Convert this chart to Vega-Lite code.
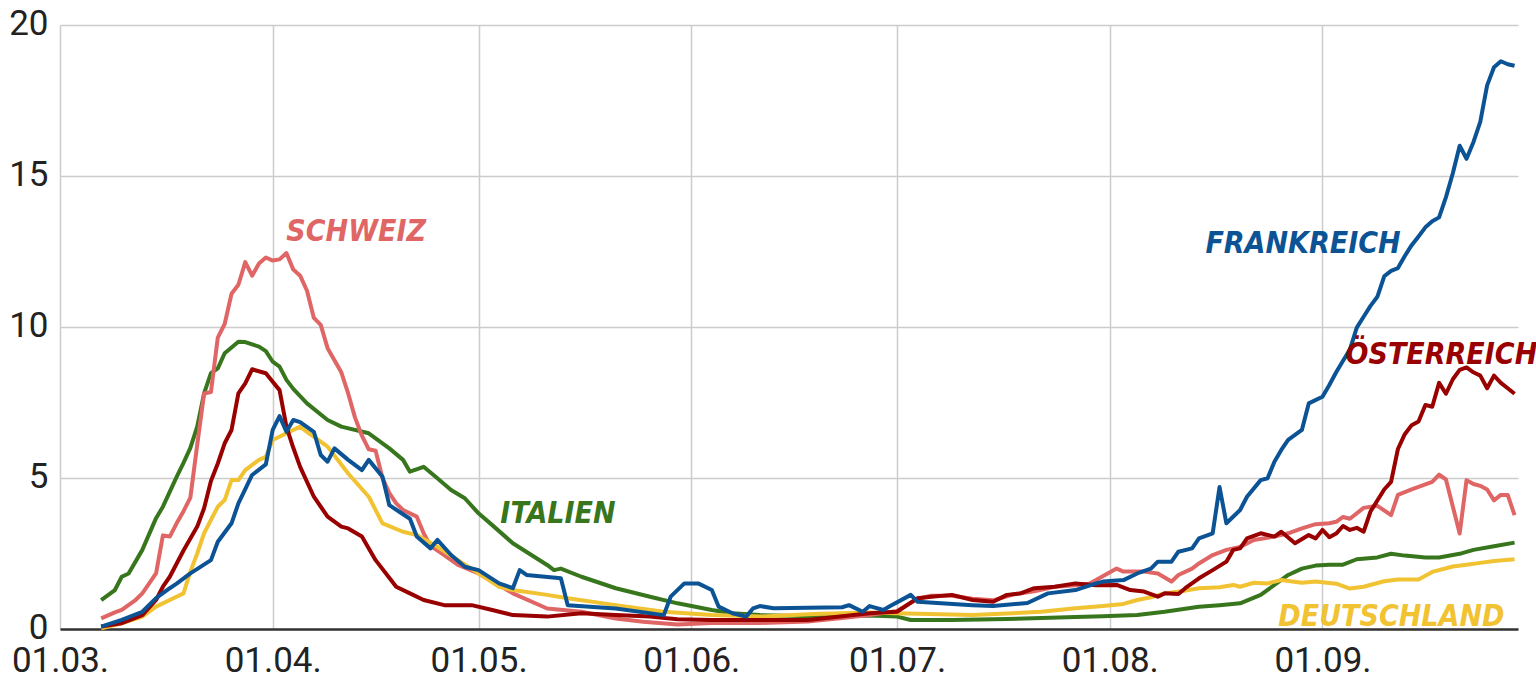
{
"$schema":"https://vega.github.io/schema/vega-lite/v6.json",
"width":1458,"height":604,
"autosize":{"type":"none"},
"padding":{"left":60,"top":25,"right":18,"bottom":62},
"config":{"view":{"stroke":null},"font":"Roboto"},
"encoding":{
 "x":{"field":"d","type":"temporal","scale":{"type":"utc","domain":[{"year":2020,"month":3,"date":1,"utc":true},{"year":2020,"month":9,"date":29,"hours":12,"utc":true}]},
  "axis":{"title":null,"labelExpr":"utcFormat(datum.value, '%d.%m.')","values":[{"year":2020,"month":3,"date":1,"utc":true},{"year":2020,"month":4,"date":1,"utc":true},{"year":2020,"month":5,"date":1,"utc":true},{"year":2020,"month":6,"date":1,"utc":true},{"year":2020,"month":7,"date":1,"utc":true},{"year":2020,"month":8,"date":1,"utc":true},{"year":2020,"month":9,"date":1,"utc":true}],
   "labelFlush":false,"labelOverlap":false,"ticks":false,"domainColor":"#333333","domainWidth":2.5,"labelFontSize":35,"labelColor":"#222222","labelPadding":14,"grid":true,"gridColor":"#cccccc","gridWidth":1.5}},
 "y":{"field":"v","type":"quantitative","scale":{"domain":[0,20],"nice":false},
  "axis":{"title":null,"values":[0,5,10,15,20],"domain":false,"ticks":false,"labelFontSize":35,"labelColor":"#222222","labelPadding":12,"labelOffset":-2,"gridColor":"#cccccc","gridWidth":1.5}},
 "color":{"field":"c","type":"nominal","legend":null,"scale":{"domain":["Italien","Schweiz","Deutschland","Österreich","Frankreich"],"range":["#38761d","#e06666","#f1c232","#990000","#0b5394"]}}
},
"layer":[
{"data":{"values":[
{"c":"Italien","d":"2020-03-07","v":0.96},{"c":"Italien","d":"2020-03-09","v":1.29},{"c":"Italien","d":"2020-03-10","v":1.73},{"c":"Italien","d":"2020-03-11","v":1.84},{"c":"Italien","d":"2020-03-13","v":2.62},{"c":"Italien","d":"2020-03-15","v":3.67},{"c":"Italien","d":"2020-03-16","v":4.05},{"c":"Italien","d":"2020-03-18","v":5.04},{"c":"Italien","d":"2020-03-19","v":5.5},{"c":"Italien","d":"2020-03-20","v":6.0},{"c":"Italien","d":"2020-03-21","v":6.7},{"c":"Italien","d":"2020-03-22","v":7.8},{"c":"Italien","d":"2020-03-23","v":8.47},{"c":"Italien","d":"2020-03-24","v":8.63},{"c":"Italien","d":"2020-03-25","v":9.13},{"c":"Italien","d":"2020-03-27","v":9.51},{"c":"Italien","d":"2020-03-28","v":9.5},{"c":"Italien","d":"2020-03-30","v":9.35},{"c":"Italien","d":"2020-03-31","v":9.2},{"c":"Italien","d":"2020-04-01","v":8.85},{"c":"Italien","d":"2020-04-02","v":8.69},{"c":"Italien","d":"2020-04-03","v":8.25},{"c":"Italien","d":"2020-04-04","v":7.95},{"c":"Italien","d":"2020-04-06","v":7.47},{"c":"Italien","d":"2020-04-09","v":6.92},{"c":"Italien","d":"2020-04-11","v":6.7},{"c":"Italien","d":"2020-04-15","v":6.48},{"c":"Italien","d":"2020-04-17","v":6.15},{"c":"Italien","d":"2020-04-18","v":5.98},{"c":"Italien","d":"2020-04-20","v":5.6},{"c":"Italien","d":"2020-04-21","v":5.21},{"c":"Italien","d":"2020-04-23","v":5.37},{"c":"Italien","d":"2020-04-25","v":4.99},{"c":"Italien","d":"2020-04-27","v":4.6},{"c":"Italien","d":"2020-04-29","v":4.33},{"c":"Italien","d":"2020-05-01","v":3.83},{"c":"Italien","d":"2020-05-03","v":3.44},{"c":"Italien","d":"2020-05-06","v":2.84},{"c":"Italien","d":"2020-05-11","v":2.12},{"c":"Italien","d":"2020-05-12","v":1.95},{"c":"Italien","d":"2020-05-13","v":2.0},{"c":"Italien","d":"2020-05-16","v":1.73},{"c":"Italien","d":"2020-05-21","v":1.35},{"c":"Italien","d":"2020-05-26","v":1.07},{"c":"Italien","d":"2020-05-30","v":0.85},{"c":"Italien","d":"2020-06-04","v":0.63},{"c":"Italien","d":"2020-06-07","v":0.52},{"c":"Italien","d":"2020-06-11","v":0.46},{"c":"Italien","d":"2020-06-19","v":0.42},{"c":"Italien","d":"2020-06-27","v":0.45},{"c":"Italien","d":"2020-07-01","v":0.41},{"c":"Italien","d":"2020-07-03","v":0.3},{"c":"Italien","d":"2020-07-09","v":0.3},{"c":"Italien","d":"2020-07-17","v":0.33},{"c":"Italien","d":"2020-07-27","v":0.4},{"c":"Italien","d":"2020-07-31","v":0.42},{"c":"Italien","d":"2020-08-05","v":0.46},{"c":"Italien","d":"2020-08-09","v":0.57},{"c":"Italien","d":"2020-08-14","v":0.74},{"c":"Italien","d":"2020-08-17","v":0.79},{"c":"Italien","d":"2020-08-20","v":0.85},{"c":"Italien","d":"2020-08-23","v":1.13},{"c":"Italien","d":"2020-08-25","v":1.46},{"c":"Italien","d":"2020-08-27","v":1.79},{"c":"Italien","d":"2020-08-29","v":2.0},{"c":"Italien","d":"2020-08-31","v":2.1},{"c":"Italien","d":"2020-09-02","v":2.13},{"c":"Italien","d":"2020-09-04","v":2.13},{"c":"Italien","d":"2020-09-06","v":2.31},{"c":"Italien","d":"2020-09-09","v":2.37},{"c":"Italien","d":"2020-09-11","v":2.49},{"c":"Italien","d":"2020-09-13","v":2.43},{"c":"Italien","d":"2020-09-16","v":2.37},{"c":"Italien","d":"2020-09-18","v":2.37},{"c":"Italien","d":"2020-09-21","v":2.49},{"c":"Italien","d":"2020-09-23","v":2.62},{"c":"Italien","d":"2020-09-26","v":2.74},{"c":"Italien","d":"2020-09-29","v":2.86},
{"c":"Schweiz","d":"2020-03-07","v":0.35},{"c":"Schweiz","d":"2020-03-09","v":0.55},{"c":"Schweiz","d":"2020-03-10","v":0.63},{"c":"Schweiz","d":"2020-03-12","v":0.96},{"c":"Schweiz","d":"2020-03-13","v":1.18},{"c":"Schweiz","d":"2020-03-15","v":1.84},{"c":"Schweiz","d":"2020-03-16","v":3.1},{"c":"Schweiz","d":"2020-03-17","v":3.06},{"c":"Schweiz","d":"2020-03-18","v":3.5},{"c":"Schweiz","d":"2020-03-19","v":3.9},{"c":"Schweiz","d":"2020-03-20","v":4.35},{"c":"Schweiz","d":"2020-03-21","v":6.1},{"c":"Schweiz","d":"2020-03-22","v":7.8},{"c":"Schweiz","d":"2020-03-23","v":7.85},{"c":"Schweiz","d":"2020-03-24","v":9.65},{"c":"Schweiz","d":"2020-03-25","v":10.1},{"c":"Schweiz","d":"2020-03-26","v":11.1},{"c":"Schweiz","d":"2020-03-27","v":11.4},{"c":"Schweiz","d":"2020-03-28","v":12.15},{"c":"Schweiz","d":"2020-03-29","v":11.7},{"c":"Schweiz","d":"2020-03-30","v":12.1},{"c":"Schweiz","d":"2020-03-31","v":12.3},{"c":"Schweiz","d":"2020-04-01","v":12.2},{"c":"Schweiz","d":"2020-04-02","v":12.24},{"c":"Schweiz","d":"2020-04-03","v":12.45},{"c":"Schweiz","d":"2020-04-04","v":11.9},{"c":"Schweiz","d":"2020-04-05","v":11.7},{"c":"Schweiz","d":"2020-04-06","v":11.2},{"c":"Schweiz","d":"2020-04-07","v":10.3},{"c":"Schweiz","d":"2020-04-08","v":10.07},{"c":"Schweiz","d":"2020-04-09","v":9.3},{"c":"Schweiz","d":"2020-04-10","v":8.9},{"c":"Schweiz","d":"2020-04-11","v":8.5},{"c":"Schweiz","d":"2020-04-12","v":7.8},{"c":"Schweiz","d":"2020-04-13","v":7.0},{"c":"Schweiz","d":"2020-04-14","v":6.4},{"c":"Schweiz","d":"2020-04-15","v":5.95},{"c":"Schweiz","d":"2020-04-16","v":5.9},{"c":"Schweiz","d":"2020-04-17","v":5.0},{"c":"Schweiz","d":"2020-04-18","v":4.5},{"c":"Schweiz","d":"2020-04-19","v":4.16},{"c":"Schweiz","d":"2020-04-20","v":3.94},{"c":"Schweiz","d":"2020-04-22","v":3.72},{"c":"Schweiz","d":"2020-04-23","v":3.17},{"c":"Schweiz","d":"2020-04-24","v":2.75},{"c":"Schweiz","d":"2020-04-26","v":2.45},{"c":"Schweiz","d":"2020-04-28","v":2.12},{"c":"Schweiz","d":"2020-05-01","v":1.84},{"c":"Schweiz","d":"2020-05-04","v":1.45},{"c":"Schweiz","d":"2020-05-06","v":1.18},{"c":"Schweiz","d":"2020-05-11","v":0.68},{"c":"Schweiz","d":"2020-05-16","v":0.57},{"c":"Schweiz","d":"2020-05-21","v":0.35},{"c":"Schweiz","d":"2020-05-25","v":0.24},{"c":"Schweiz","d":"2020-05-30","v":0.15},{"c":"Schweiz","d":"2020-06-04","v":0.2},{"c":"Schweiz","d":"2020-06-11","v":0.2},{"c":"Schweiz","d":"2020-06-18","v":0.25},{"c":"Schweiz","d":"2020-06-23","v":0.36},{"c":"Schweiz","d":"2020-06-27","v":0.46},{"c":"Schweiz","d":"2020-07-01","v":0.6},{"c":"Schweiz","d":"2020-07-04","v":1.0},{"c":"Schweiz","d":"2020-07-06","v":1.1},{"c":"Schweiz","d":"2020-07-09","v":1.1},{"c":"Schweiz","d":"2020-07-12","v":1.0},{"c":"Schweiz","d":"2020-07-15","v":0.95},{"c":"Schweiz","d":"2020-07-18","v":1.15},{"c":"Schweiz","d":"2020-07-21","v":1.25},{"c":"Schweiz","d":"2020-07-24","v":1.4},{"c":"Schweiz","d":"2020-07-27","v":1.45},{"c":"Schweiz","d":"2020-07-29","v":1.5},{"c":"Schweiz","d":"2020-07-30","v":1.62},{"c":"Schweiz","d":"2020-08-02","v":2.0},{"c":"Schweiz","d":"2020-08-03","v":1.9},{"c":"Schweiz","d":"2020-08-06","v":1.9},{"c":"Schweiz","d":"2020-08-08","v":1.84},{"c":"Schweiz","d":"2020-08-10","v":1.57},{"c":"Schweiz","d":"2020-08-11","v":1.79},{"c":"Schweiz","d":"2020-08-13","v":2.0},{"c":"Schweiz","d":"2020-08-14","v":2.17},{"c":"Schweiz","d":"2020-08-16","v":2.45},{"c":"Schweiz","d":"2020-08-18","v":2.62},{"c":"Schweiz","d":"2020-08-20","v":2.72},{"c":"Schweiz","d":"2020-08-22","v":2.95},{"c":"Schweiz","d":"2020-08-25","v":3.06},{"c":"Schweiz","d":"2020-08-27","v":3.17},{"c":"Schweiz","d":"2020-08-29","v":3.33},{"c":"Schweiz","d":"2020-08-31","v":3.47},{"c":"Schweiz","d":"2020-09-02","v":3.5},{"c":"Schweiz","d":"2020-09-03","v":3.55},{"c":"Schweiz","d":"2020-09-04","v":3.71},{"c":"Schweiz","d":"2020-09-05","v":3.65},{"c":"Schweiz","d":"2020-09-07","v":4.01},{"c":"Schweiz","d":"2020-09-09","v":4.08},{"c":"Schweiz","d":"2020-09-11","v":3.77},{"c":"Schweiz","d":"2020-09-12","v":4.44},{"c":"Schweiz","d":"2020-09-14","v":4.62},{"c":"Schweiz","d":"2020-09-17","v":4.87},{"c":"Schweiz","d":"2020-09-18","v":5.11},{"c":"Schweiz","d":"2020-09-19","v":4.95},{"c":"Schweiz","d":"2020-09-21","v":3.16},{"c":"Schweiz","d":"2020-09-22","v":4.93},{"c":"Schweiz","d":"2020-09-23","v":4.8},{"c":"Schweiz","d":"2020-09-24","v":4.74},{"c":"Schweiz","d":"2020-09-25","v":4.62},{"c":"Schweiz","d":"2020-09-26","v":4.26},{"c":"Schweiz","d":"2020-09-27","v":4.44},{"c":"Schweiz","d":"2020-09-28","v":4.44},{"c":"Schweiz","d":"2020-09-29","v":3.77},
{"c":"Deutschland","d":"2020-03-07","v":0.02},{"c":"Deutschland","d":"2020-03-10","v":0.19},{"c":"Deutschland","d":"2020-03-13","v":0.41},{"c":"Deutschland","d":"2020-03-15","v":0.74},{"c":"Deutschland","d":"2020-03-17","v":0.96},{"c":"Deutschland","d":"2020-03-19","v":1.18},{"c":"Deutschland","d":"2020-03-20","v":1.9},{"c":"Deutschland","d":"2020-03-21","v":2.5},{"c":"Deutschland","d":"2020-03-22","v":3.17},{"c":"Deutschland","d":"2020-03-24","v":4.05},{"c":"Deutschland","d":"2020-03-25","v":4.27},{"c":"Deutschland","d":"2020-03-26","v":4.93},{"c":"Deutschland","d":"2020-03-27","v":4.93},{"c":"Deutschland","d":"2020-03-28","v":5.26},{"c":"Deutschland","d":"2020-03-30","v":5.6},{"c":"Deutschland","d":"2020-03-31","v":5.7},{"c":"Deutschland","d":"2020-04-01","v":6.26},{"c":"Deutschland","d":"2020-04-03","v":6.48},{"c":"Deutschland","d":"2020-04-05","v":6.7},{"c":"Deutschland","d":"2020-04-06","v":6.53},{"c":"Deutschland","d":"2020-04-09","v":6.04},{"c":"Deutschland","d":"2020-04-12","v":5.15},{"c":"Deutschland","d":"2020-04-15","v":4.38},{"c":"Deutschland","d":"2020-04-17","v":3.5},{"c":"Deutschland","d":"2020-04-20","v":3.22},{"c":"Deutschland","d":"2020-04-22","v":3.11},{"c":"Deutschland","d":"2020-04-25","v":2.72},{"c":"Deutschland","d":"2020-04-28","v":2.28},{"c":"Deutschland","d":"2020-05-01","v":1.84},{"c":"Deutschland","d":"2020-05-04","v":1.4},{"c":"Deutschland","d":"2020-05-06","v":1.29},{"c":"Deutschland","d":"2020-05-11","v":1.13},{"c":"Deutschland","d":"2020-05-14","v":1.02},{"c":"Deutschland","d":"2020-05-21","v":0.79},{"c":"Deutschland","d":"2020-05-28","v":0.57},{"c":"Deutschland","d":"2020-06-04","v":0.46},{"c":"Deutschland","d":"2020-06-11","v":0.41},{"c":"Deutschland","d":"2020-06-19","v":0.5},{"c":"Deutschland","d":"2020-06-27","v":0.55},{"c":"Deutschland","d":"2020-07-01","v":0.52},{"c":"Deutschland","d":"2020-07-12","v":0.46},{"c":"Deutschland","d":"2020-07-22","v":0.57},{"c":"Deutschland","d":"2020-07-27","v":0.69},{"c":"Deutschland","d":"2020-07-31","v":0.76},{"c":"Deutschland","d":"2020-08-03","v":0.83},{"c":"Deutschland","d":"2020-08-05","v":0.96},{"c":"Deutschland","d":"2020-08-07","v":1.05},{"c":"Deutschland","d":"2020-08-09","v":1.18},{"c":"Deutschland","d":"2020-08-12","v":1.27},{"c":"Deutschland","d":"2020-08-14","v":1.35},{"c":"Deutschland","d":"2020-08-17","v":1.38},{"c":"Deutschland","d":"2020-08-19","v":1.46},{"c":"Deutschland","d":"2020-08-20","v":1.4},{"c":"Deutschland","d":"2020-08-22","v":1.53},{"c":"Deutschland","d":"2020-08-24","v":1.51},{"c":"Deutschland","d":"2020-08-26","v":1.62},{"c":"Deutschland","d":"2020-08-29","v":1.53},{"c":"Deutschland","d":"2020-08-31","v":1.57},{"c":"Deutschland","d":"2020-09-03","v":1.5},{"c":"Deutschland","d":"2020-09-05","v":1.34},{"c":"Deutschland","d":"2020-09-07","v":1.4},{"c":"Deutschland","d":"2020-09-10","v":1.58},{"c":"Deutschland","d":"2020-09-12","v":1.64},{"c":"Deutschland","d":"2020-09-15","v":1.64},{"c":"Deutschland","d":"2020-09-17","v":1.89},{"c":"Deutschland","d":"2020-09-20","v":2.07},{"c":"Deutschland","d":"2020-09-22","v":2.13},{"c":"Deutschland","d":"2020-09-24","v":2.19},{"c":"Deutschland","d":"2020-09-26","v":2.25},{"c":"Deutschland","d":"2020-09-29","v":2.31},
{"c":"Österreich","d":"2020-03-07","v":0.08},{"c":"Österreich","d":"2020-03-10","v":0.19},{"c":"Österreich","d":"2020-03-13","v":0.46},{"c":"Österreich","d":"2020-03-15","v":0.96},{"c":"Österreich","d":"2020-03-16","v":1.4},{"c":"Österreich","d":"2020-03-17","v":1.73},{"c":"Österreich","d":"2020-03-19","v":2.6},{"c":"Österreich","d":"2020-03-21","v":3.39},{"c":"Österreich","d":"2020-03-22","v":4.0},{"c":"Österreich","d":"2020-03-23","v":4.9},{"c":"Österreich","d":"2020-03-24","v":5.48},{"c":"Österreich","d":"2020-03-25","v":6.15},{"c":"Österreich","d":"2020-03-26","v":6.59},{"c":"Österreich","d":"2020-03-27","v":7.8},{"c":"Österreich","d":"2020-03-28","v":8.13},{"c":"Österreich","d":"2020-03-29","v":8.6},{"c":"Österreich","d":"2020-03-31","v":8.47},{"c":"Österreich","d":"2020-04-01","v":8.19},{"c":"Österreich","d":"2020-04-02","v":7.91},{"c":"Österreich","d":"2020-04-03","v":6.7},{"c":"Österreich","d":"2020-04-04","v":6.0},{"c":"Österreich","d":"2020-04-05","v":5.37},{"c":"Österreich","d":"2020-04-07","v":4.38},{"c":"Österreich","d":"2020-04-09","v":3.72},{"c":"Österreich","d":"2020-04-11","v":3.39},{"c":"Österreich","d":"2020-04-12","v":3.33},{"c":"Österreich","d":"2020-04-14","v":3.06},{"c":"Österreich","d":"2020-04-16","v":2.28},{"c":"Österreich","d":"2020-04-19","v":1.4},{"c":"Österreich","d":"2020-04-21","v":1.18},{"c":"Österreich","d":"2020-04-23","v":0.96},{"c":"Österreich","d":"2020-04-26","v":0.79},{"c":"Österreich","d":"2020-04-30","v":0.79},{"c":"Österreich","d":"2020-05-03","v":0.63},{"c":"Österreich","d":"2020-05-06","v":0.46},{"c":"Österreich","d":"2020-05-11","v":0.41},{"c":"Österreich","d":"2020-05-16","v":0.52},{"c":"Österreich","d":"2020-05-21","v":0.46},{"c":"Österreich","d":"2020-05-26","v":0.41},{"c":"Österreich","d":"2020-05-30","v":0.32},{"c":"Österreich","d":"2020-06-04","v":0.3},{"c":"Österreich","d":"2020-06-11","v":0.3},{"c":"Österreich","d":"2020-06-18","v":0.3},{"c":"Österreich","d":"2020-06-27","v":0.52},{"c":"Österreich","d":"2020-07-01","v":0.57},{"c":"Österreich","d":"2020-07-04","v":1.02},{"c":"Österreich","d":"2020-07-06","v":1.07},{"c":"Österreich","d":"2020-07-09","v":1.13},{"c":"Österreich","d":"2020-07-12","v":0.96},{"c":"Österreich","d":"2020-07-15","v":0.9},{"c":"Österreich","d":"2020-07-17","v":1.13},{"c":"Österreich","d":"2020-07-19","v":1.18},{"c":"Österreich","d":"2020-07-21","v":1.35},{"c":"Österreich","d":"2020-07-24","v":1.4},{"c":"Österreich","d":"2020-07-27","v":1.51},{"c":"Österreich","d":"2020-07-30","v":1.45},{"c":"Österreich","d":"2020-08-02","v":1.46},{"c":"Österreich","d":"2020-08-04","v":1.29},{"c":"Österreich","d":"2020-08-06","v":1.24},{"c":"Österreich","d":"2020-08-08","v":1.07},{"c":"Österreich","d":"2020-08-09","v":1.18},{"c":"Österreich","d":"2020-08-11","v":1.16},{"c":"Österreich","d":"2020-08-12","v":1.35},{"c":"Österreich","d":"2020-08-14","v":1.68},{"c":"Österreich","d":"2020-08-16","v":1.95},{"c":"Österreich","d":"2020-08-18","v":2.23},{"c":"Österreich","d":"2020-08-19","v":2.62},{"c":"Österreich","d":"2020-08-20","v":2.67},{"c":"Österreich","d":"2020-08-21","v":3.0},{"c":"Österreich","d":"2020-08-23","v":3.17},{"c":"Österreich","d":"2020-08-25","v":3.06},{"c":"Österreich","d":"2020-08-26","v":3.22},{"c":"Österreich","d":"2020-08-28","v":2.84},{"c":"Österreich","d":"2020-08-30","v":3.11},{"c":"Österreich","d":"2020-08-31","v":3.0},{"c":"Österreich","d":"2020-09-01","v":3.28},{"c":"Österreich","d":"2020-09-02","v":3.04},{"c":"Österreich","d":"2020-09-03","v":3.16},{"c":"Österreich","d":"2020-09-04","v":3.41},{"c":"Österreich","d":"2020-09-05","v":3.28},{"c":"Österreich","d":"2020-09-06","v":3.35},{"c":"Österreich","d":"2020-09-07","v":3.22},{"c":"Österreich","d":"2020-09-08","v":3.89},{"c":"Österreich","d":"2020-09-10","v":4.62},{"c":"Österreich","d":"2020-09-11","v":4.87},{"c":"Österreich","d":"2020-09-12","v":5.96},{"c":"Österreich","d":"2020-09-13","v":6.45},{"c":"Österreich","d":"2020-09-14","v":6.75},{"c":"Österreich","d":"2020-09-15","v":6.87},{"c":"Österreich","d":"2020-09-16","v":7.42},{"c":"Österreich","d":"2020-09-17","v":7.36},{"c":"Österreich","d":"2020-09-18","v":8.15},{"c":"Österreich","d":"2020-09-19","v":7.79},{"c":"Österreich","d":"2020-09-20","v":8.27},{"c":"Österreich","d":"2020-09-21","v":8.58},{"c":"Österreich","d":"2020-09-22","v":8.66},{"c":"Österreich","d":"2020-09-23","v":8.5},{"c":"Österreich","d":"2020-09-24","v":8.39},{"c":"Österreich","d":"2020-09-25","v":7.97},{"c":"Österreich","d":"2020-09-26","v":8.39},{"c":"Österreich","d":"2020-09-27","v":8.15},{"c":"Österreich","d":"2020-09-28","v":7.97},{"c":"Österreich","d":"2020-09-29","v":7.79},
{"c":"Frankreich","d":"2020-03-07","v":0.08},{"c":"Frankreich","d":"2020-03-10","v":0.3},{"c":"Frankreich","d":"2020-03-13","v":0.57},{"c":"Frankreich","d":"2020-03-15","v":1.02},{"c":"Frankreich","d":"2020-03-17","v":1.35},{"c":"Frankreich","d":"2020-03-18","v":1.5},{"c":"Frankreich","d":"2020-03-20","v":1.84},{"c":"Frankreich","d":"2020-03-23","v":2.28},{"c":"Frankreich","d":"2020-03-24","v":2.89},{"c":"Frankreich","d":"2020-03-26","v":3.5},{"c":"Frankreich","d":"2020-03-27","v":4.16},{"c":"Frankreich","d":"2020-03-29","v":5.1},{"c":"Frankreich","d":"2020-03-31","v":5.45},{"c":"Frankreich","d":"2020-04-01","v":6.59},{"c":"Frankreich","d":"2020-04-02","v":7.05},{"c":"Frankreich","d":"2020-04-03","v":6.53},{"c":"Frankreich","d":"2020-04-04","v":6.92},{"c":"Frankreich","d":"2020-04-05","v":6.85},{"c":"Frankreich","d":"2020-04-07","v":6.53},{"c":"Frankreich","d":"2020-04-08","v":5.76},{"c":"Frankreich","d":"2020-04-09","v":5.54},{"c":"Frankreich","d":"2020-04-10","v":5.98},{"c":"Frankreich","d":"2020-04-12","v":5.6},{"c":"Frankreich","d":"2020-04-14","v":5.26},{"c":"Frankreich","d":"2020-04-15","v":5.6},{"c":"Frankreich","d":"2020-04-17","v":5.04},{"c":"Frankreich","d":"2020-04-18","v":4.1},{"c":"Frankreich","d":"2020-04-20","v":3.8},{"c":"Frankreich","d":"2020-04-21","v":3.65},{"c":"Frankreich","d":"2020-04-22","v":3.06},{"c":"Frankreich","d":"2020-04-24","v":2.67},{"c":"Frankreich","d":"2020-04-25","v":2.95},{"c":"Frankreich","d":"2020-04-27","v":2.45},{"c":"Frankreich","d":"2020-04-29","v":2.06},{"c":"Frankreich","d":"2020-05-01","v":1.95},{"c":"Frankreich","d":"2020-05-04","v":1.51},{"c":"Frankreich","d":"2020-05-06","v":1.35},{"c":"Frankreich","d":"2020-05-07","v":1.95},{"c":"Frankreich","d":"2020-05-08","v":1.79},{"c":"Frankreich","d":"2020-05-13","v":1.68},{"c":"Frankreich","d":"2020-05-14","v":0.79},{"c":"Frankreich","d":"2020-05-21","v":0.68},{"c":"Frankreich","d":"2020-05-28","v":0.46},{"c":"Frankreich","d":"2020-05-29","v":1.07},{"c":"Frankreich","d":"2020-05-31","v":1.51},{"c":"Frankreich","d":"2020-06-02","v":1.51},{"c":"Frankreich","d":"2020-06-04","v":1.29},{"c":"Frankreich","d":"2020-06-05","v":0.74},{"c":"Frankreich","d":"2020-06-07","v":0.52},{"c":"Frankreich","d":"2020-06-09","v":0.41},{"c":"Frankreich","d":"2020-06-10","v":0.68},{"c":"Frankreich","d":"2020-06-11","v":0.76},{"c":"Frankreich","d":"2020-06-13","v":0.69},{"c":"Frankreich","d":"2020-06-23","v":0.72},{"c":"Frankreich","d":"2020-06-24","v":0.79},{"c":"Frankreich","d":"2020-06-26","v":0.57},{"c":"Frankreich","d":"2020-06-27","v":0.76},{"c":"Frankreich","d":"2020-06-29","v":0.63},{"c":"Frankreich","d":"2020-06-30","v":0.76},{"c":"Frankreich","d":"2020-07-03","v":1.13},{"c":"Frankreich","d":"2020-07-04","v":0.9},{"c":"Frankreich","d":"2020-07-12","v":0.79},{"c":"Frankreich","d":"2020-07-15","v":0.76},{"c":"Frankreich","d":"2020-07-20","v":0.86},{"c":"Frankreich","d":"2020-07-23","v":1.18},{"c":"Frankreich","d":"2020-07-27","v":1.29},{"c":"Frankreich","d":"2020-07-30","v":1.51},{"c":"Frankreich","d":"2020-07-31","v":1.57},{"c":"Frankreich","d":"2020-08-03","v":1.62},{"c":"Frankreich","d":"2020-08-05","v":1.84},{"c":"Frankreich","d":"2020-08-07","v":2.0},{"c":"Frankreich","d":"2020-08-08","v":2.23},{"c":"Frankreich","d":"2020-08-10","v":2.23},{"c":"Frankreich","d":"2020-08-11","v":2.56},{"c":"Frankreich","d":"2020-08-13","v":2.67},{"c":"Frankreich","d":"2020-08-14","v":3.0},{"c":"Frankreich","d":"2020-08-16","v":3.17},{"c":"Frankreich","d":"2020-08-17","v":4.7},{"c":"Frankreich","d":"2020-08-18","v":3.5},{"c":"Frankreich","d":"2020-08-20","v":3.94},{"c":"Frankreich","d":"2020-08-21","v":4.38},{"c":"Frankreich","d":"2020-08-23","v":4.93},{"c":"Frankreich","d":"2020-08-24","v":4.99},{"c":"Frankreich","d":"2020-08-25","v":5.54},{"c":"Frankreich","d":"2020-08-26","v":5.93},{"c":"Frankreich","d":"2020-08-27","v":6.26},{"c":"Frankreich","d":"2020-08-29","v":6.59},{"c":"Frankreich","d":"2020-08-30","v":7.47},{"c":"Frankreich","d":"2020-09-01","v":7.69},{"c":"Frankreich","d":"2020-09-02","v":8.08},{"c":"Frankreich","d":"2020-09-03","v":8.5},{"c":"Frankreich","d":"2020-09-04","v":8.88},{"c":"Frankreich","d":"2020-09-05","v":9.25},{"c":"Frankreich","d":"2020-09-06","v":9.98},{"c":"Frankreich","d":"2020-09-07","v":10.34},{"c":"Frankreich","d":"2020-09-08","v":10.7},{"c":"Frankreich","d":"2020-09-09","v":11.0},{"c":"Frankreich","d":"2020-09-10","v":11.68},{"c":"Frankreich","d":"2020-09-11","v":11.86},{"c":"Frankreich","d":"2020-09-12","v":11.95},{"c":"Frankreich","d":"2020-09-13","v":12.35},{"c":"Frankreich","d":"2020-09-14","v":12.71},{"c":"Frankreich","d":"2020-09-15","v":13.0},{"c":"Frankreich","d":"2020-09-16","v":13.3},{"c":"Frankreich","d":"2020-09-17","v":13.5},{"c":"Frankreich","d":"2020-09-18","v":13.63},{"c":"Frankreich","d":"2020-09-19","v":14.3},{"c":"Frankreich","d":"2020-09-20","v":15.09},{"c":"Frankreich","d":"2020-09-21","v":16.0},{"c":"Frankreich","d":"2020-09-22","v":15.57},{"c":"Frankreich","d":"2020-09-23","v":16.12},{"c":"Frankreich","d":"2020-09-24","v":16.79},{"c":"Frankreich","d":"2020-09-25","v":18.0},{"c":"Frankreich","d":"2020-09-26","v":18.6},{"c":"Frankreich","d":"2020-09-27","v":18.8},{"c":"Frankreich","d":"2020-09-28","v":18.7},{"c":"Frankreich","d":"2020-09-29","v":18.65}
]},
"mark":{"type":"line","strokeWidth":4,"strokeJoin":"round","clip":false}},
{"data":{"values":[
{"c":"Schweiz","t":"SCHWEIZ","d":"2020-04-13T04:00:00Z","v":12.85},
{"c":"Italien","t":"ITALIEN","d":"2020-05-12T14:00:00Z","v":3.51},
{"c":"Frankreich","t":"FRANKREICH","d":"2020-08-29T04:00:00Z","v":12.45},
{"c":"Österreich","t":"ÖSTERREICH","d":"2020-09-18T08:00:00Z","v":8.77},
{"c":"Deutschland","t":"DEUTSCHLAND","d":"2020-09-11T01:00:00Z","v":0.1}
]},
"mark":{"type":"text","font":"DejaVu Sans Condensed","fontWeight":"bold","fontStyle":"italic","fontSize":30,"baseline":"alphabetic","align":"center"},
"encoding":{"text":{"field":"t","type":"nominal"}}}
]
}
